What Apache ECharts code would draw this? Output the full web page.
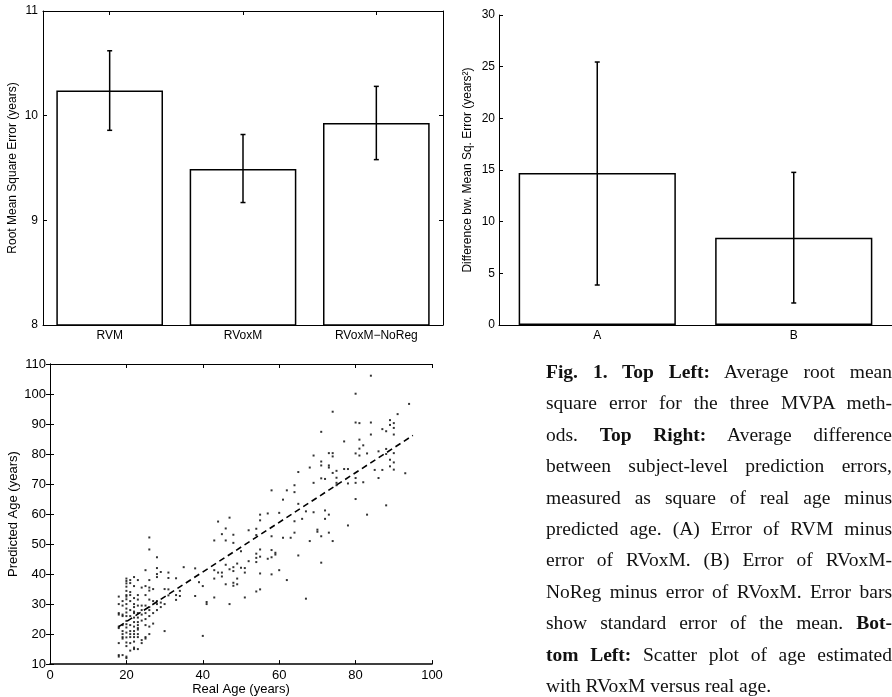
<!DOCTYPE html>
<html>
<head>
<meta charset="utf-8">
<title>RVoxM age prediction</title>
<script src="https://cdn.jsdelivr.net/npm/echarts@6/dist/echarts.min.js"></script>
<style>
  html, body { margin: 0; padding: 0; background: #fff; }
  #wrap { position: relative; width: 892px; height: 697px; overflow: hidden; }
  #chart { width: 892px; height: 697px; }
  #caption {
    position: absolute; left: 546px; top: 356px; width: 346px;
    font-family: 'Liberation Serif', 'DejaVu Serif', serif; font-size: 19.5px; color: #111;
  }
  #caption div {
    height: 31.4px; line-height: 31.4px; white-space: nowrap;
    text-align: justify; text-align-last: justify;
  }
  #caption div.last { text-align-last: left; }
</style>
</head>
<body>
<div id="wrap">
  <div id="chart"></div>
  <div id="caption">
    <div><b>Fig.&nbsp;1. Top Left:</b> Average root mean</div>
    <div>square error for the three MVPA meth-</div>
    <div>ods. <b>Top Right:</b> Average difference</div>
    <div>between subject-level prediction errors,</div>
    <div>measured as square of real age minus</div>
    <div>predicted age. (A) Error of RVM minus</div>
    <div>error of RVoxM. (B) Error of RVoxM-</div>
    <div>NoReg minus error of RVoxM. Error bars</div>
    <div>show standard error of the mean. <b>Bot-</b></div>
    <div><b>tom Left:</b> Scatter plot of age estimated</div>
    <div class="last">with RVoxM versus real age.</div>
  </div>
</div>
<script>
// top left: RMSE per method
const methods = ['RVM', 'RVoxM', 'RVoxM\u2212NoReg'];
const rmse = [10.24, 9.49, 9.93];
const rmseLow = [9.86, 9.17, 9.58];
const rmseHigh = [10.62, 9.82, 10.28];

// top right: difference of mean sq. error
const pairs = ['A', 'B'];
const mseDiff = [14.7, 8.45];
const mseDiffLow = [3.87, 2.13];
const mseDiffHigh = [25.45, 14.77];

// bottom left: real age vs predicted age (RVoxM)
const ageScatter = [
  [18,32.5],[18,30],[18,27],[18,26.5],[18,22.5],[18,22],[18,17],[18,13],[18,12.5],
  [19,31],[19,29.5],[19,26.5],[19,26],[19,23],[19,21],[19,20],[19,19],[19,18.5],[19,13],
  [20,38.5],[20,37.7],[20,36.9],[20,35.8],[20,34.4],[20,33],[20,32.5],[20,31.6],[20,30],[20,28.5],
  [20,27.2],[20,26],[20,24.4],[20,23.3],[20,22.2],[20,20.5],[20,18.9],[20,17.2],[20,16],[20,12.5],[20,12],
  [21,38],[21,37],[21,34],[21,33],[21,31],[21,28],[21,26],[21,23],[21,21],[21,20],[21,19],[21,17],[21,14.5],
  [22,39],[22,36],[22,32],[22,30],[22,29],[22,27.5],[22,27],[22,25.5],[22,24],[22,22.5],[22,21],[22,20],
  [22,19],[22,17.5],[22,15.5],[22,15],
  [23,38],[23,33],[23,31.5],[23,29.5],[23,27],[23,25.5],[23,24],[23,23],[23,22],[23,21.5],[23,20],[23,19],[23,15],
  [24,35.5],[24,29.5],[24,28],[24,26.5],[24,24.5],[24,18],[24,17],
  [25,41.3],[25,36],[25,33],[25,29.5],[25,27],[25,25],[25,23],[25,19],[25,18.5],
  [26,52.2],[26,48.2],[26,38],[26,35.5],[26,34.5],[26,31.5],[26,29],[26,28],[26,26],[26,22.5],[26,20],
  [27,35],[27,31],[27,27],[27,23.5],
  [28,45.6],[28,42],[28,40],[28,39],[28,31],[28,30],[28,28],
  [29,40.7],[29,30.5],[29,29],
  [30,35],[30,30],[30,21],
  [31,40.5],[31,38.7],[31,34.9],[31,32.9],
  [33,38.6],[33,33],[33,31.4],
  [34,34.4],[34,32.7],
  [35,42.3],
  [38,41.9],[38,32.7],
  [39,37.3],
  [40,36],[40,19.4],
  [41,30.7],[41,30],
  [43,51.2],[43,41.3],[43,38.5],[43,32.2],
  [44,57.5],[44,40.5],
  [45,53.3],[45,40.5],[45,39.2],
  [46,55.2],[46,51.2],[46,43.1],[46,36.6],
  [47,58.8],[47,41.6],[47,30],
  [48,53.1],[48,50.4],[48,42.3],[48,41],[48,37.1],[48,36.1],
  [49,43.5],[49,38.5],[49,36.6],
  [50,47.6],[50,42.1],
  [51,42],[51,40.5],[51,32.2],
  [52,54.6],[52,44.3],
  [54,55.1],[54,53],[54,46.8],[54,45.4],[54,44],[54,34.2],
  [55,59.8],[55,57.9],[55,48.2],[55,45.8],[55,40.2],[55,34.9],
  [57,60.2],[57,45.1],
  [58,67.9],[58,52.6],[58,48],[58,45.6],[58,39.9],
  [59,47.1],[59,46.5],
  [60,60.4],[60,41.3],
  [61,64.8],[61,52.1],
  [62,67.9],[62,38],
  [63,52.1],
  [64,69.6],[64,67.3],[64,57.6],[64,53.8],
  [65,74],[65,63.4],[65,46.2],
  [66,58.4],
  [67,60.9],[67,31.8],
  [68,75.5],[68,51],
  [69,79.5],[69,70.4],[69,60.6],
  [70,54.8],[70,54.1],
  [71,87.4],[71,77.5],[71,76.2],[71,71.9],[71,52.6],[71,43.8],
  [72,71.7],[72,61.2],[72,58.4],
  [73,80.3],[73,76.2],[73,75.5],[73,59.8],[73,53.8],
  [74,94.1],[74,80.3],[74,79.2],[74,73.7],[74,51],
  [75,74.4],[75,72.1],[75,70.4],[75,69.6],
  [77,84.2],[77,75],
  [78,75],[78,70.2],[78,56.2],
  [80,100.1],[80,90.5],[80,80.2],[80,72],[80,70.4],[80,65],
  [81,90.3],[81,84.8],[81,81.8],[81,79.5],
  [82,82.9],[82,70.6],
  [83,80.2],[83,59.8],
  [84,106.1],[84,90.5],[84,86.5],
  [85,74.7],
  [86,80.9],[86,72],
  [87,88.3],[87,74.7],
  [88,87.6],[88,81.7],[88,80],[88,62.9],
  [89,91.3],[89,89.7],[89,78.1],[89,75.9],
  [90,90.3],[90,88.7],[90,86.5],[90,80.3],[90,77.2],[90,74.8],
  [91,93.3],
  [93,73.6],
  [94,96.7]
];
// least squares fit drawn as dashed line
const fitLine = [[18, 22.5], [95, 86.2]];

const FONT = 'Liberation Sans, Arial, sans-serif';
const black = '#000';

const axisLine = { show: true, lineStyle: { color: black, width: 1 } };
const label = (size, margin) => ({ color: black, fontSize: size, fontFamily: FONT, margin: margin });
const nameStyle = (size) => ({ color: black, fontSize: size, fontFamily: FONT });
const tickIn = { show: true, inside: true, length: 4, lineStyle: { color: black } };

// error bar drawn with a small cap on each end
function errorBar(params, api) {
  const idx = api.value(0);
  const lo = api.coord([idx, api.value(1)]);
  const hi = api.coord([idx, api.value(2)]);
  const cap = 2.5;
  const style = { stroke: black, lineWidth: 1.5 };
  return {
    type: 'group',
    children: [
      { type: 'line', shape: { x1: lo[0], y1: lo[1], x2: hi[0], y2: hi[1] }, style: style },
      { type: 'line', shape: { x1: lo[0] - cap, y1: lo[1], x2: lo[0] + cap, y2: lo[1] }, style: style },
      { type: 'line', shape: { x1: hi[0] - cap, y1: hi[1], x2: hi[0] + cap, y2: hi[1] }, style: style }
    ]
  };
}

const chart = echarts.init(document.getElementById('chart'), null, { renderer: 'canvas' });

chart.setOption({
  animation: false,
  backgroundColor: '#fff',
  grid: [
    { left: 43, top: 11, width: 400, height: 314 },
    { left: 499, top: 15, width: 393, height: 310 },
    { left: 50, top: 364, width: 382, height: 301 }
  ],
  xAxis: [
    {
      gridIndex: 0, type: 'category', data: methods,
      axisLine: axisLine, axisTick: { show: false },
      axisLabel: label(12, 5)
    },
    {
      gridIndex: 0, type: 'category', data: methods, position: 'top',
      axisLine: axisLine, axisTick: Object.assign({ alignWithLabel: true }, tickIn),
      axisLabel: { show: false }
    },
    {
      gridIndex: 1, type: 'category', data: pairs,
      axisLine: axisLine, axisTick: { show: false },
      axisLabel: label(12, 5)
    },
    {
      gridIndex: 2, type: 'value', min: 0, max: 100, interval: 20,
      axisLine: { show: true, lineStyle: { color: black, width: 1.5 } },
      axisTick: tickIn, splitLine: { show: false },
      axisLabel: label(13, 5),
      name: 'Real Age (years)', nameLocation: 'middle', nameGap: 18,
      nameTextStyle: nameStyle(13)
    },
    {
      gridIndex: 2, type: 'value', min: 0, max: 100, interval: 20, position: 'top',
      axisLine: axisLine, axisTick: tickIn, splitLine: { show: false },
      axisLabel: { show: false }
    }
  ],
  yAxis: [
    {
      gridIndex: 0, type: 'value', min: 8, max: 11, interval: 1,
      axisLine: axisLine, axisTick: tickIn, splitLine: { show: false },
      axisLabel: label(12, 5),
      name: 'Root Mean Square Error (years)', nameLocation: 'middle', nameGap: 24,
      nameTextStyle: nameStyle(12)
    },
    {
      gridIndex: 0, type: 'value', min: 8, max: 11, interval: 1, position: 'right',
      axisLine: axisLine, axisTick: tickIn, splitLine: { show: false },
      axisLabel: { show: false }
    },
    {
      gridIndex: 1, type: 'value', min: 0, max: 30, interval: 5,
      axisLine: axisLine, axisTick: tickIn, splitLine: { show: false },
      axisLabel: label(12, 4),
      name: 'Difference bw. Mean Sq. Error (years\u00b2)', nameLocation: 'middle', nameGap: 25,
      nameTextStyle: nameStyle(12)
    },
    {
      gridIndex: 2, type: 'value', min: 10, max: 110, interval: 10,
      axisLine: axisLine, axisTick: tickIn, splitLine: { show: false },
      axisLabel: label(13, 4),
      name: 'Predicted Age (years)', nameLocation: 'middle', nameGap: 30,
      nameTextStyle: nameStyle(13)
    },
    {
      gridIndex: 2, type: 'value', min: 10, max: 110, interval: 10, position: 'right',
      axisLine: axisLine, axisTick: tickIn, splitLine: { show: false },
      axisLabel: { show: false }
    }
  ],
  series: [
    {
      type: 'bar', xAxisIndex: 0, yAxisIndex: 0, data: rmse, barWidth: '80%',
      itemStyle: { color: '#fff', borderColor: black, borderWidth: 1.5 }
    },
    {
      type: 'custom', xAxisIndex: 0, yAxisIndex: 0, z: 5,
      data: methods.map((m, i) => [i, rmseLow[i], rmseHigh[i]]),
      encode: { x: 0, y: [1, 2] }, renderItem: errorBar
    },
    {
      type: 'bar', xAxisIndex: 2, yAxisIndex: 2, data: mseDiff, barWidth: '80%',
      itemStyle: { color: '#fff', borderColor: black, borderWidth: 1.5 }
    },
    {
      type: 'custom', xAxisIndex: 2, yAxisIndex: 2, z: 5,
      data: pairs.map((p, i) => [i, mseDiffLow[i], mseDiffHigh[i]]),
      encode: { x: 0, y: [1, 2] }, renderItem: errorBar
    },
    {
      type: 'scatter', xAxisIndex: 3, yAxisIndex: 3, data: ageScatter,
      symbol: 'rect', symbolSize: 2, itemStyle: { color: black }
    },
    {
      type: 'line', xAxisIndex: 3, yAxisIndex: 3, data: fitLine,
      showSymbol: false, symbol: 'none',
      lineStyle: { color: black, width: 1.6, type: [6, 4] }
    }
  ]
});
</script>
</body>
</html>
